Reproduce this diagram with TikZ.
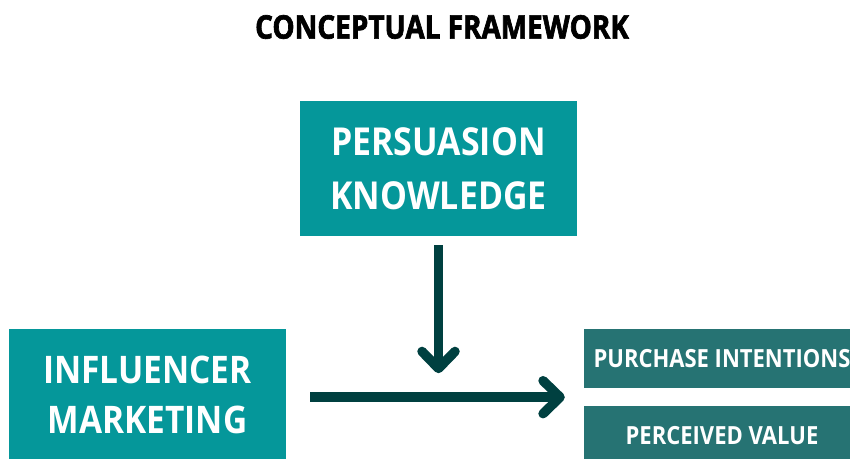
\documentclass[tikz,border=0pt]{standalone}
\usepackage{fontspec}
\setmainfont{Open Sans}
\newfontfamily\cffont[FakeStretch=0.88]{Open Sans}
\newfontfamily\cfheadfont[FakeStretch=0.86,FakeBold=2]{Open Sans}
\usetikzlibrary{arrows.meta,calc,positioning}
\definecolor{cfteal}{RGB}{5,151,154}
\definecolor{cfdark}{RGB}{38,115,115}
\definecolor{cfarrow}{RGB}{0,64,64}
\tikzset{
	framework/.style={x=1pt,y=1pt,node distance=18pt and 0pt},
	cbox/.style={fill=cfteal,text=white,inner sep=0pt,align=center,
		font=\cffont\bfseries\fontsize{38.5}{54}\selectfont},
	obox/.style={fill=cfdark,text=white,inner sep=0pt,
		minimum width=276pt,minimum height=59pt,
		font=\cffont\bfseries\fontsize{25}{28}\selectfont},
	ar/.style={draw=cfarrow,line width=9.5pt,
		-{Straight Barb[round,length=17pt,width=33pt]}},
	heading/.style={font=\cfheadfont\bfseries\fontsize{32.5}{36}\selectfont}
}

\begin{document}
\begin{tikzpicture}[framework]
	\useasboundingbox (0,0) rectangle (850,458);
	\clip (0,0) rectangle (850,458);
	\node[heading] (title) at (442,431) {CONCEPTUAL FRAMEWORK};
	\node[cbox,minimum width=277pt,minimum height=135pt] (pk) at (438.5,289.5)
		{PERSUASION\\KNOWLEDGE};
	\node[cbox,minimum width=277pt,minimum height=132pt,
		font=\cffont\bfseries\fontsize{38}{50}\selectfont] (im) at (147.5,63)
		{INFLUENCER\\MARKETING};
	\node[obox] (pi) at (722,99.5) {PURCHASE INTENTIONS};
	\node[obox,below=of pi] (pv) {PERCEIVED VALUE};
	\coordinate (hub) at ($(pi.south west)!.5!(pv.north west)$);
	\draw[ar,shorten <=24pt,shorten >=19pt] (im.east |- hub) -- (hub);
	\draw[ar,shorten <=9pt,shorten >=24pt] (pk.south) -- (pk.south |- hub);
\end{tikzpicture}
\end{document}
